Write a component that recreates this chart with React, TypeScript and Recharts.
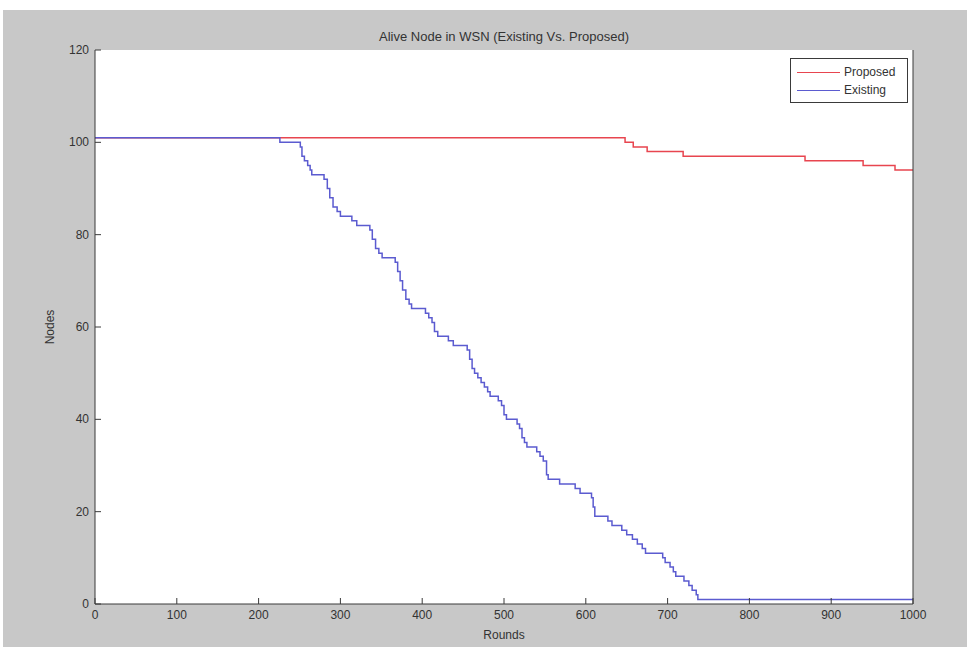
import React from 'react';
import { LineChart, Line, XAxis, YAxis, CartesianGrid, Label } from 'recharts';

// Existing protocol: rounds at which the alive count changes, and the count from then on
const existingRounds = [
  0, 226, 251, 253, 256, 260, 263, 265, 280, 284, 287, 291, 296, 300, 314, 320, 336, 339, 343, 347,
  351, 367, 370, 373, 376, 380, 384, 387, 404, 408, 412, 415, 419, 432, 438, 455, 458, 461, 464, 468,
  472, 476, 480, 483, 493, 497, 500, 503, 516, 519, 522, 525, 528, 540, 544, 548, 552, 554, 568, 587,
  593, 607, 609, 611, 627, 632, 644, 650, 657, 663, 669, 673, 694, 697, 703, 707, 710, 720, 726, 730,
  735, 737, 1000,
];
const existingNodes = [
  101, 100, 99, 97, 96, 95, 94, 93, 92, 90, 88, 86, 85, 84, 83, 82, 81, 79, 77, 76,
  75, 74, 72, 70, 68, 66, 65, 64, 63, 62, 61, 59, 58, 57, 56, 55, 53, 51, 50, 49,
  48, 47, 46, 45, 44, 43, 41, 40, 39, 38, 36, 35, 34, 33, 32, 31, 28, 27, 26, 25,
  24, 23, 21, 19, 18, 17, 16, 15, 14, 13, 12, 11, 10, 9, 8, 7, 6, 5, 4, 3,
  2, 1, 1,
];

// Proposed protocol
const proposedRounds = [0, 648, 658, 675, 719, 868, 939, 978, 1000];
const proposedNodes = [101, 100, 99, 98, 97, 96, 95, 94, 94];

const xTicks = [0, 100, 200, 300, 400, 500, 600, 700, 800, 900, 1000];
const yTicks = [0, 20, 40, 60, 80, 100, 120];
const seriesNames = ['Proposed', 'Existing'];

const existingData = existingRounds.map((r, i) => ({ round: r, nodes: existingNodes[i] }));
const proposedData = proposedRounds.map((r, i) => ({ round: r, nodes: proposedNodes[i] }));

const AXIS = '#3a3a3a';
const TEXT = '#333';
const FONT = '"Liberation Sans", Arial, sans-serif';
const RED = '#e8454f';
const BLUE = '#5b5bd0';

// MATLAB-style ticks: marks point into the plot box
const BottomTick = (props: any) => {
  const { x, y, payload } = props;
  return (
    <g>
      <line x1={x} x2={x} y1={y} y2={y - 6} stroke={AXIS} />
      <text x={x} y={y + 15} textAnchor="middle" fontSize={12} fill={TEXT} fontFamily={FONT}>
        {payload.value}
      </text>
    </g>
  );
};

const TopTick = (props: any) => {
  const { x, y } = props;
  return <line x1={x} x2={x} y1={y} y2={y + 6} stroke={AXIS} />;
};

const LeftTick = (props: any) => {
  const { x, y, payload } = props;
  return (
    <g>
      <line x1={x} x2={x + 6} y1={y} y2={y} stroke={AXIS} />
      <text x={x - 6} y={y + 4} textAnchor="end" fontSize={12} fill={TEXT} fontFamily={FONT}>
        {payload.value}
      </text>
    </g>
  );
};

const RightTick = (props: any) => {
  const { x, y } = props;
  return <line x1={x} x2={x - 6} y1={y} y2={y} stroke={AXIS} />;
};

const LegendBox = () => (
  <div
    style={{
      position: 'absolute',
      left: 790,
      top: 58,
      background: '#fff',
      border: `1px solid ${AXIS}`,
      width: 118,
      height: 45,
      boxSizing: 'border-box',
      fontFamily: FONT,
      fontSize: 12,
      color: TEXT,
      padding: '4px 0 0 6px',
    }}
  >
    {seriesNames.map((name, i) => (
      <div key={name} style={{ display: 'flex', alignItems: 'center', height: 18 }}>
        <span
          style={{
            display: 'inline-block',
            width: 43,
            height: 0,
            borderTop: `1.5px solid ${i === 0 ? RED : BLUE}`,
            marginRight: 4,
          }}
        />
        <span>{name}</span>
      </div>
    ))}
  </div>
);

export default function App() {
  return (
    <div style={{ position: 'absolute', left: 0, top: 0, width: 967, height: 647, background: '#fff' }}>
      <div style={{ position: 'absolute', left: 3, top: 10, width: 964, height: 637, background: '#c8c8c8' }} />
      <div
        style={{
          position: 'absolute',
          left: 95,
          width: 818,
          top: 29,
          textAlign: 'center',
          fontFamily: FONT,
          fontSize: 13,
          color: TEXT,
        }}
      >
        Alive Node in WSN (Existing Vs. Proposed)
      </div>
      <div style={{ position: 'absolute', left: 0, top: 0 }}>
        <LineChart width={967} height={647} margin={{ top: 50, right: 0, bottom: 0, left: 0 }}>
          <CartesianGrid horizontal={false} vertical={false} fill="#fff" />
          <XAxis
            type="number"
            dataKey="round"
            domain={[0, 1000]}
            ticks={xTicks}
            interval={0}
            height={43}
            tickSize={0}
            tickMargin={0}
            tickLine={false}
            tick={<BottomTick />}
            stroke={AXIS}
            allowDuplicatedCategory={false}
          >
            <Label value="Rounds" position="insideBottom" offset={8} fontSize={12} fill={TEXT} fontFamily={FONT} />
          </XAxis>
          <XAxis
            xAxisId="top"
            orientation="top"
            type="number"
            domain={[0, 1000]}
            ticks={xTicks}
            interval={0}
            height={0}
            tickSize={0}
            tickMargin={0}
            tickLine={false}
            tick={<TopTick />}
            stroke={AXIS}
          />
          <YAxis
            type="number"
            domain={[0, 120]}
            ticks={yTicks}
            interval={0}
            width={95}
            tickSize={0}
            tickMargin={0}
            tickLine={false}
            tick={<LeftTick />}
            stroke={AXIS}
          >
            <Label
              value="Nodes"
              angle={-90}
              position="insideLeft"
              offset={50}
              fontSize={12}
              fill={TEXT}
              fontFamily={FONT}
              style={{ textAnchor: 'middle' }}
            />
          </YAxis>
          <YAxis
            yAxisId="right"
            orientation="right"
            type="number"
            domain={[0, 120]}
            ticks={yTicks}
            interval={0}
            width={54}
            tickSize={0}
            tickMargin={0}
            tickLine={false}
            tick={<RightTick />}
            stroke={AXIS}
          />
          <Line
            data={proposedData}
            dataKey="nodes"
            name="Proposed"
            type="stepAfter"
            stroke={RED}
            strokeWidth={1.5}
            dot={false}
            isAnimationActive={false}
          />
          <Line
            data={existingData}
            dataKey="nodes"
            name="Existing"
            type="stepAfter"
            stroke={BLUE}
            strokeWidth={1.5}
            dot={false}
            isAnimationActive={false}
          />
        </LineChart>
      </div>
      <LegendBox />
    </div>
  );
}
